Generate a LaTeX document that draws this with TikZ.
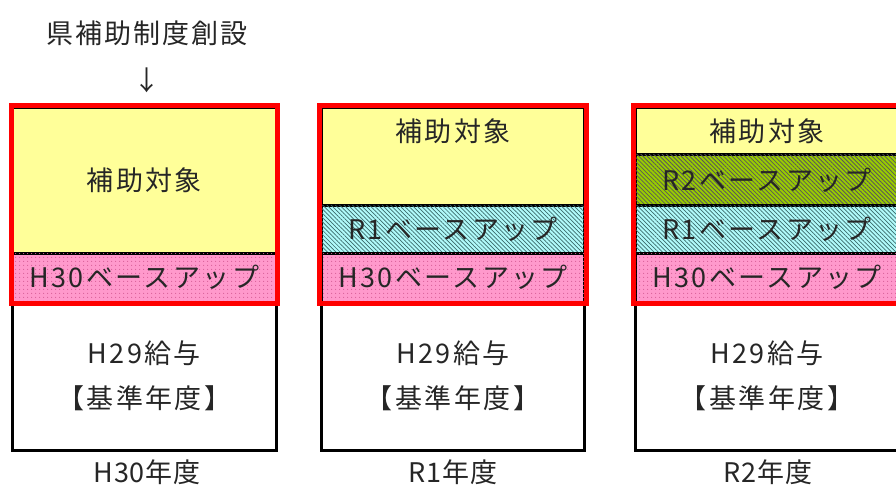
\documentclass[tikz,border=0pt]{standalone}
\usepackage{fontspec}
\setmainfont{Noto Sans CJK JP}
\usetikzlibrary{patterns.meta}
\definecolor{byellow}{HTML}{FFFF99}
\definecolor{bpink}{HTML}{FF99CC}
\definecolor{bpinkdot}{HTML}{D9609A}
\definecolor{bcyan}{HTML}{B0FAFA}
\definecolor{bcyanln}{HTML}{3A6A6A}
\definecolor{bgreen}{HTML}{99CC00}
\definecolor{txt}{HTML}{262626}
\newcommand{\bandfont}{\fontsize{27}{31}\selectfont\addfontfeature{LetterSpace=9}}
\tikzset{
  x=1pt,y=-1pt,
  band/.style={draw=black,line width=3pt,inner sep=0pt,minimum width=263.5pt,text=txt,font=\bandfont},
  yband/.style={band,fill=byellow},
  pband/.style={band,fill=bpink,postaction={pattern={Dots[distance=4pt,radius=0.7pt]},pattern color=bpinkdot}},
  cband/.style={band,fill=bcyan,postaction={pattern={Lines[angle=-45,distance=3pt,line width=0.7pt]},pattern color=bcyanln}},
  gband/.style={band,fill=bgreen,postaction={pattern={Lines[angle=-45,distance=3pt,line width=0.8pt]},pattern color=black!65}},
  wband/.style={band,fill=white,align=center},
  lbl/.style={text=txt,inner sep=0pt,font=\bandfont},
  title/.style={text=txt,inner sep=0pt,font=\fontsize{27}{31}\selectfont\addfontfeature{LetterSpace=8}},
  yearlbl/.style={text=txt,inner sep=0pt,font=\fontsize{27}{31}\selectfont\addfontfeature{LetterSpace=3}},
  redbox/.style={draw=red,line width=5pt},
}
\begin{document}
\begin{tikzpicture}
\useasboundingbox (0,0) rectangle (896,489);
\fill[white] (0,0) rectangle (896,489);
% column 1
\node[yband,minimum height=145.5pt] (c1y) at (144.25,180.25) {補助対象};
\node[pband,minimum height=49pt] (c1p) at (144.25,277.5) {H30ベースアップ};
\node[wband,minimum height=148pt] (c1w) at (144.25,376) {H29給与\\[14pt]【基準年度】};
\draw[redbox] (c1y.north west) rectangle (c1p.south east);
% column 2
\node[yband,minimum height=97.5pt] (c2y) at (453,156.25) {};
\node[lbl] (c2yt) at (453,131) {補助対象};
\node[cband,minimum height=48pt] (c2c) at (453,229) {R1ベースアップ};
\node[pband,minimum height=49pt] (c2p) at (453,277.5) {H30ベースアップ};
\node[wband,minimum height=148pt] (c2w) at (453,376) {H29給与\\[14pt]【基準年度】};
\draw[redbox] (c2y.north west) rectangle (c2p.south east);
% column 3
\node[yband,minimum height=47.5pt] (c3y) at (767,131.25) {補助対象};
\node[gband,minimum height=50pt] (c3g) at (767,180) {R2ベースアップ};
\node[cband,minimum height=48pt] (c3c) at (767,229) {R1ベースアップ};
\node[pband,minimum height=49pt] (c3p) at (767,277.5) {H30ベースアップ};
\node[wband,minimum height=148pt] (c3w) at (767,376) {H29給与\\[14pt]【基準年度】};
\draw[redbox] (c3y.north west) rectangle (c3p.south east);
% labels
\node[title] (title) at (147,33) {県補助制度創設};
\node[title] (arrow) at (147,80) {↓};
\node[yearlbl] (y1) at (147,472) {H30年度};
\node[yearlbl] (y2) at (453,472) {R1年度};
\node[yearlbl] (y3) at (768,472) {R2年度};
\end{tikzpicture}
\end{document}
